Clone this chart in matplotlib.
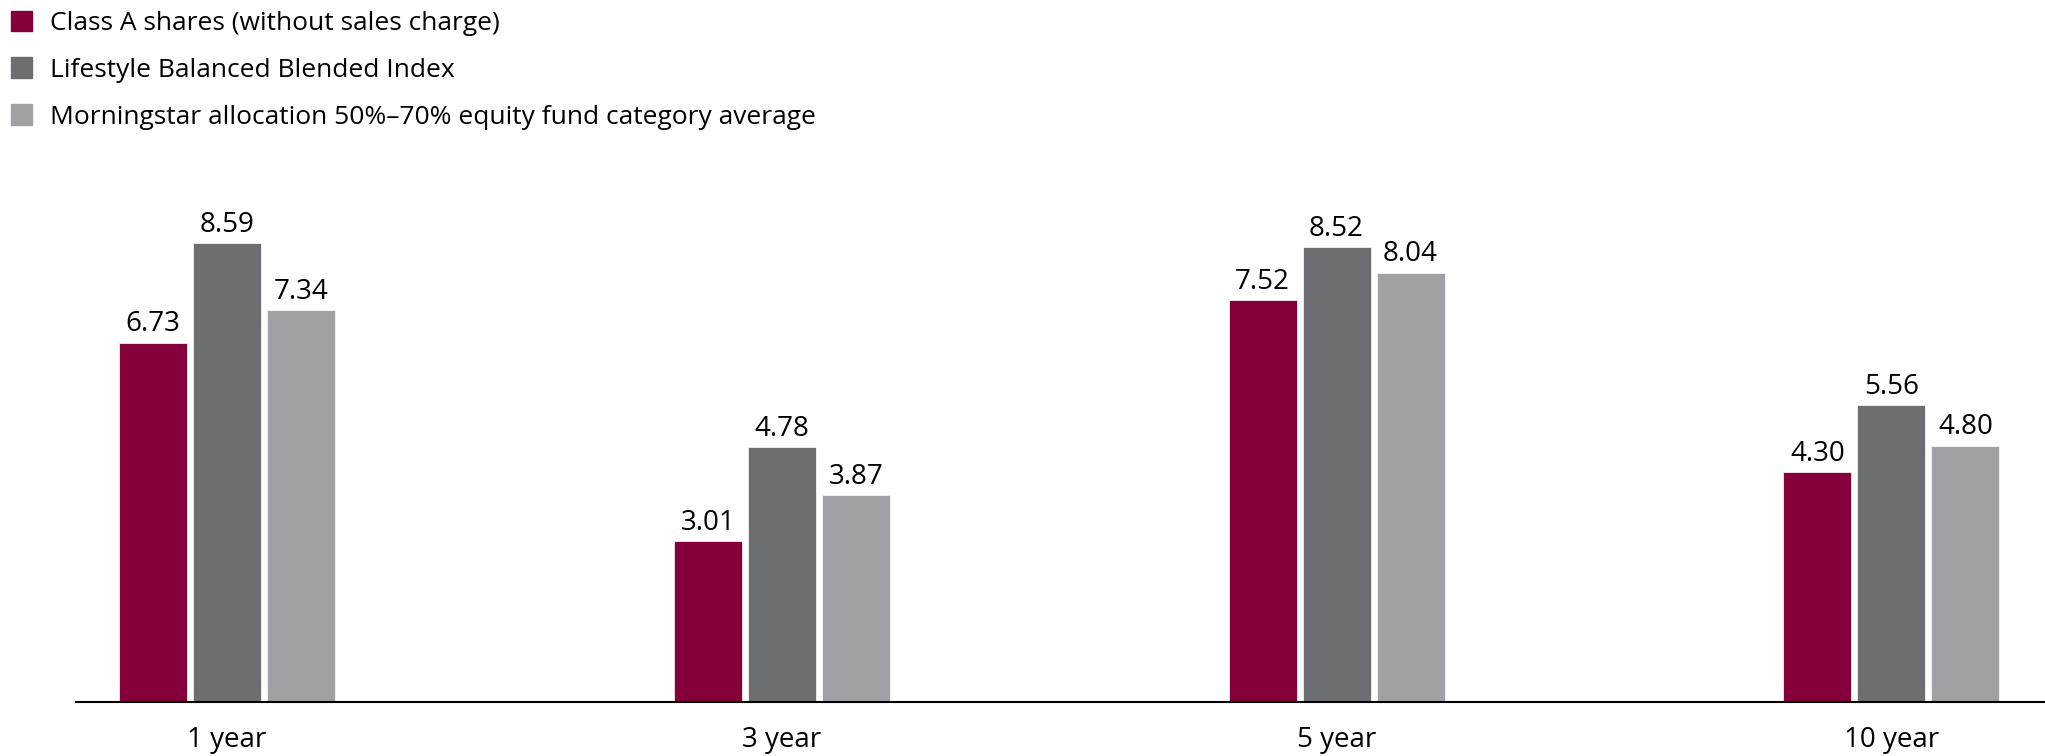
import numpy as np
import matplotlib.pyplot as plt
from matplotlib.patches import Patch

plt.rcParams['font.family'] = ['Open Sans', 'DejaVu Sans']

periods = ['1 year', '3 year', '5 year', '10 year']
class_a = [6.73, 3.01, 7.52, 4.30]
blended = [8.59, 4.78, 8.52, 5.56]
category = [7.34, 3.87, 8.04, 4.80]

series_names = ['Class A shares (without sales charge)',
                'Lifestyle Balanced Blended Index',
                'Morningstar allocation 50%\u201370% equity fund category average']
colors = ['#85003b', '#6d6e72', '#a0a1a5']

fig = plt.figure(figsize=(20.45, 7.56), dpi=100)
ax = fig.add_axes([0.0372, 0.0714, 0.9628, 0.7063])

x = np.arange(len(periods))
width = 0.1226
step = 0.1334

for i, vals in enumerate([class_a, blended, category]):
    bars = ax.bar(x + (i - 1) * step, vals, width, color=colors[i],
                  edgecolor='white', linewidth=0.5)
    for b, v in zip(bars, vals):
        ax.text(b.get_x() + b.get_width() / 2, v + 0.08, '%.2f' % v,
                ha='center', va='bottom', fontsize=20)

ax.set_xlim(-0.272, 3.277)
ax.set_ylim(0, 10)
ax.set_yticks([])
ax.set_xticks(x)
ax.set_xticklabels(periods, fontsize=20)
ax.tick_params(axis='x', length=0, pad=17)
for s in ['top', 'right', 'left']:
    ax.spines[s].set_visible(False)
ax.spines['bottom'].set_linewidth(1.5)

handles = [Patch(color=c) for c in colors]
fig.legend(handles, series_names, loc='upper left', bbox_to_anchor=(0.0, 1.0),
           frameon=False, fontsize=19, handlelength=0.8, handleheight=0.8,
           handletextpad=0.7, labelspacing=0.82, borderaxespad=0)

fig.savefig('out.png', dpi=100)
